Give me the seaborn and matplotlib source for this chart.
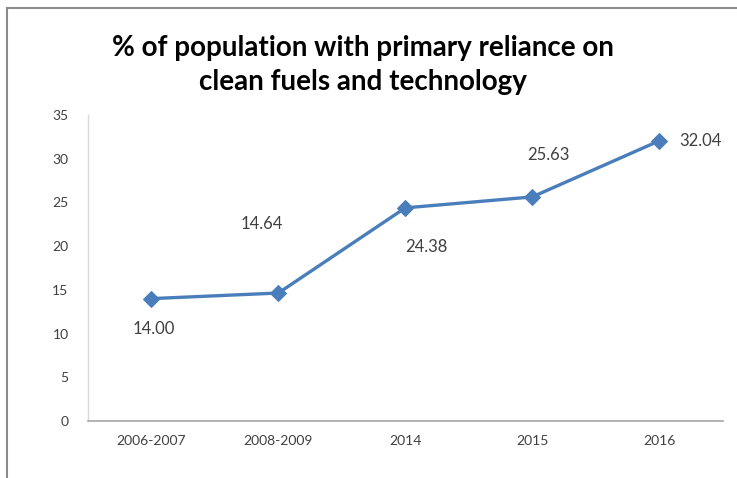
import pandas as pd
import numpy as np
import matplotlib.pyplot as plt
import seaborn as sns
from matplotlib.patches import Rectangle

sns.set_theme(style='white')
plt.rcParams['font.family'] = ['Lato', 'DejaVu Sans']

# datos
periods = ['2006-2007', '2008-2009', '2014', '2015', '2016']
values = [14.00, 14.64, 24.38, 25.63, 32.04]
labels = ['14.00', '14.64', '24.38', '25.63', '32.04']

df = pd.DataFrame({'period': periods, 'value': values})
df['pos'] = np.arange(len(periods))

fig = plt.figure(figsize=(7.37, 4.78), dpi=100)
ax = fig.add_axes([0.1194, 0.1192, 0.861, 0.6402])

sns.lineplot(data=df, x='pos', y='value', ax=ax, color='#4A7EBB', linewidth=2.4,
             marker='D', markersize=8, markeredgecolor='#4A7EBB')

ax.set_xlim(-0.5, 4.5)
ax.set_ylim(0, 35)
ax.set_yticks(range(0, 36, 5))
ax.set_xticks(df['pos'])
ax.set_xticklabels(periods)
ax.set_xlabel('')
ax.set_ylabel('')
ax.tick_params(axis='both', length=0, labelsize=10, colors='#404040')
ax.tick_params(axis='x', pad=10)
ax.tick_params(axis='y', pad=14)

for s in ['top', 'right']:
    ax.spines[s].set_visible(False)
ax.spines['left'].set_color('#d9d9d9')
ax.spines['bottom'].set_color('#a6a6a6')
ax.spines['left'].set_linewidth(1)
ax.spines['bottom'].set_linewidth(1.2)

# posicion de las etiquetas (desplazamiento en puntos)
offsets = [(2, -22), (-12, 50), (15, -28), (12, 30), (30, 0)]
for x, y, lab, off in zip(df['pos'], values, labels, offsets):
    ax.annotate(lab, (x, y), xytext=off, textcoords='offset points',
                ha='center', va='center', fontsize=12, color='#404040')

fig.text(0.492, 0.9, '% of population with primary reliance on', ha='center', va='center',
         fontsize=20, fontweight='bold', color='black')
fig.text(0.492, 0.828, 'clean fuels and technology', ha='center', va='center',
         fontsize=20, fontweight='bold', color='black')

# marco exterior
fig.patches.append(Rectangle((7 / 737, -0.1), 1.2, 1.1 - 8 / 478, transform=fig.transFigure,
                             fill=False, edgecolor='#8c8c8c', linewidth=1.5))

fig.savefig('out.png', dpi=100)
